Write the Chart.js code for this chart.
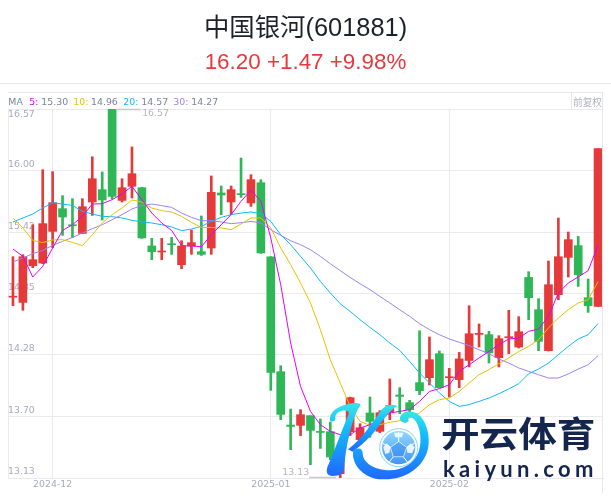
<!DOCTYPE html>
<html><head><meta charset="utf-8">
<style>
html,body{margin:0;padding:0;background:#fff;width:611px;height:501px;overflow:hidden}
#c{position:absolute;left:0;top:0}
.t{position:absolute;white-space:nowrap;line-height:1}
.l{position:absolute;background:#e8e8ec}
#title{left:0;width:611px;top:7px;text-align:center;font:25.4px "Liberation Sans","Noto Sans CJK SC",sans-serif;color:#1d2129}
#sub{left:0;width:611px;top:49px;text-align:center;font:22.4px "Liberation Sans",sans-serif;color:#e8383d}
.h{font:9.4px "DejaVu Sans",sans-serif;top:96px;color:#7d8299}
svg{position:absolute;left:320px;top:390px}
#wm1{left:441px;top:403px;font:bold 38.6px "Noto Sans CJK SC",sans-serif;color:#14254e;transform:scaleY(.92);transform-origin:0 50%}
#wm2{left:443px;top:455px;font:bold 22px "Lato",sans-serif;color:#14254e;letter-spacing:4.3px}
</style></head><body>
<canvas id="c" width="611" height="501"></canvas>
<div class="l" style="left:0;top:83px;width:611px;height:1px"></div>
<div class="l" style="left:8px;top:92px;width:594px;height:1px"></div>
<div class="l" style="left:602px;top:92px;width:1px;height:401px"></div>
<div class="l" style="left:571px;top:92px;width:1px;height:17px"></div>
<div id="title" class="t">中国银河(601881)</div>
<div id="sub" class="t">16.20 +1.47 +9.98%</div>
<div id="ma"></div>
<div class="t" style="left:573px;top:95px;font:9.7px 'Noto Sans CJK SC',sans-serif;color:#b3b6c2">前复权</div>
<svg width="291" height="90" viewBox="0 0 873 270">
<defs>
<linearGradient id="g" x1="0" y1="0" x2="0" y2="1"><stop offset="0" stop-color="#38e6e8"/><stop offset="0.35" stop-color="#12bcfb"/><stop offset="1" stop-color="#2168ff"/></linearGradient>
<linearGradient id="b" x1="0" y1="0" x2="0" y2="1"><stop offset="0" stop-color="#8fd8ff"/><stop offset="1" stop-color="#3f97f7"/></linearGradient>
</defs>
<path fill="url(#g)" d="M30 92C26 70 50 48 85 42C105 38 122 38 122 46C108 62 100 90 90 125C80 165 74 205 72 238C70 252 60 258 38 258C22 258 17 248 22 232C40 190 62 130 86 72C88 62 78 60 66 62C52 66 44 74 46 84C48 92 36 98 30 92Z"/>
<path fill="url(#g)" d="M84 178C120 150 155 105 180 65C192 48 210 38 232 48C214 58 196 80 176 108C156 138 126 165 98 185Z"/>
<path fill="url(#g)" d="M100 182C92 215 125 268 190 268C250 270 300 240 320 190C335 150 322 90 290 70C270 60 246 64 240 82C238 98 258 104 266 92C262 84 268 78 278 84C300 100 308 150 296 185C280 225 240 245 195 240C155 236 128 215 128 190C128 172 112 172 100 182Z"/>
<circle cx="236" cy="173" r="57" fill="#fff" stroke="#8ad2fb" stroke-width="3"/>
<circle cx="236" cy="173" r="50" fill="url(#b)"/>
<path fill="none" stroke="#fff" stroke-width="3" d="M236 155L260 172L250 200L220 200L212 172ZM236 155L236 125M260 172L284 160M250 200L265 220M220 200L205 220M212 172L188 160"/>
<path fill="#fff" opacity="0.85" d="M260 172L272 160L284 172L276 190L262 188ZM212 172L200 160L190 172L196 192L208 188ZM222 128L250 128L246 142L226 142Z"/>
<path fill="#2f86ee" opacity="0.45" d="M236 155L260 172L250 200L220 200L212 172Z"/>
</svg>
<div id="wm1" class="t">开云体育</div>
<div id="wm2" class="t">kaiyun.com</div>
<script src="https://cdn.jsdelivr.net/npm/chart.js@4/dist/chart.umd.js"></script>
<script>
const dates=["2024-11-26","2024-11-27","2024-11-28","2024-11-29","2024-12-02","2024-12-03","2024-12-04","2024-12-05","2024-12-06","2024-12-09","2024-12-10","2024-12-11","2024-12-12","2024-12-13","2024-12-16","2024-12-17","2024-12-18","2024-12-19","2024-12-20","2024-12-23","2024-12-24","2024-12-25","2024-12-26","2024-12-27","2024-12-30","2024-12-31","2025-01-02","2025-01-03","2025-01-06","2025-01-07","2025-01-08","2025-01-09","2025-01-10","2025-01-13","2025-01-14","2025-01-15","2025-01-16","2025-01-17","2025-01-20","2025-01-21","2025-01-22","2025-01-23","2025-01-24","2025-01-27","2025-02-05","2025-02-06","2025-02-07","2025-02-10","2025-02-11","2025-02-12","2025-02-13","2025-02-14","2025-02-17","2025-02-18","2025-02-19","2025-02-20","2025-02-21","2025-02-24","2025-02-25","2025-02-26"];
const opens=[14.816,14.767,15.109,15.134,15.429,15.641,15.491,15.410,15.703,15.818,16.570,15.718,15.849,15.836,15.293,15.237,15.312,15.119,15.293,15.240,15.274,15.787,15.703,15.781,15.694,15.883,15.193,14.121,13.624,13.621,13.711,13.562,13.562,13.170,13.562,13.487,13.736,13.565,13.748,13.904,13.832,14.019,14.065,14.289,14.065,14.047,14.226,14.469,14.466,14.252,14.438,14.351,15.000,14.699,14.317,14.839,15.187,15.296,14.811,14.73];
const closes=[14.823,15.193,15.165,15.501,15.697,15.563,15.482,15.659,15.920,15.722,15.755,15.836,15.967,15.368,15.240,15.243,15.305,15.293,15.324,15.215,15.793,15.768,15.818,15.771,15.911,15.228,14.115,13.723,13.611,13.720,13.574,13.555,13.326,13.320,13.879,13.599,13.658,13.739,13.804,13.891,13.767,13.944,14.233,13.972,14.072,14.240,14.475,14.475,14.296,14.429,14.445,14.494,14.811,14.404,14.932,15.193,15.352,15.025,14.736,16.20];
const highs=[15.193,15.212,15.491,16.004,15.986,15.762,15.734,15.734,16.125,15.983,16.57,15.920,16.216,15.841,15.364,15.364,15.373,15.342,15.442,15.573,15.946,15.852,15.852,16.113,15.958,15.911,15.193,14.177,13.773,13.767,13.711,13.680,13.652,13.375,13.884,13.636,13.885,13.758,14.053,13.972,13.854,14.503,14.445,14.314,14.152,14.301,14.736,14.566,14.497,14.457,14.693,14.634,15.053,14.802,15.153,15.554,15.423,15.382,14.985,16.20];
const lows=[14.736,14.693,15.091,15.128,15.277,15.392,15.370,15.408,15.578,15.535,15.734,15.703,15.740,15.364,15.165,15.165,15.215,15.081,15.215,15.205,15.215,15.585,15.585,15.746,15.662,15.224,13.947,13.674,13.394,13.525,13.254,13.406,13.301,13.13,13.525,13.441,13.509,13.553,13.674,13.730,13.748,13.907,13.997,13.969,13.885,13.972,14.165,14.351,14.202,14.165,14.289,14.342,14.606,14.317,14.314,14.792,15.004,14.916,14.674,14.73];
const ma5=[15.265,15.196,15.004,15.103,15.274,15.438,15.491,15.569,15.684,15.687,15.725,15.778,15.849,15.725,15.600,15.507,15.438,15.296,15.293,15.286,15.398,15.491,15.585,15.709,15.815,15.709,15.368,14.932,14.389,13.984,13.751,13.627,13.565,13.534,13.534,13.596,13.627,13.674,13.736,13.751,13.767,13.844,13.937,13.963,14.000,14.124,14.186,14.249,14.310,14.373,14.426,14.435,14.497,14.519,14.637,14.855,14.948,15.004,15.063,15.30];
const ma10=[15.554,15.461,15.345,15.324,15.349,15.352,15.327,15.296,15.398,15.507,15.585,15.647,15.722,15.703,15.647,15.622,15.610,15.569,15.513,15.466,15.466,15.461,15.445,15.498,15.554,15.554,15.461,15.274,15.119,14.948,14.762,14.513,14.233,14.016,13.798,13.658,13.621,13.627,13.649,13.664,13.689,13.736,13.814,13.860,13.876,13.937,14.016,14.093,14.140,14.196,14.249,14.310,14.357,14.419,14.529,14.622,14.699,14.762,14.792,14.96];
const ma20=[15.517,15.554,15.591,15.647,15.697,15.684,15.671,15.616,15.591,15.569,15.566,15.554,15.532,15.517,15.507,15.491,15.470,15.436,15.451,15.476,15.522,15.560,15.585,15.600,15.610,15.594,15.522,15.398,15.305,15.196,15.088,14.963,14.855,14.755,14.683,14.606,14.534,14.466,14.389,14.320,14.217,14.109,14.016,13.923,13.844,13.798,13.814,13.844,13.876,13.916,13.960,14.009,14.102,14.146,14.202,14.280,14.357,14.426,14.466,14.57];
const ma30=[15.144,15.181,15.221,15.252,15.299,15.336,15.373,15.414,15.454,15.491,15.538,15.585,15.638,15.671,15.684,15.669,15.653,15.600,15.560,15.529,15.529,15.517,15.501,15.510,15.522,15.507,15.445,15.392,15.342,15.305,15.258,15.196,15.128,15.063,15.000,14.941,14.886,14.823,14.762,14.699,14.637,14.569,14.513,14.466,14.426,14.395,14.364,14.326,14.289,14.239,14.202,14.156,14.124,14.093,14.062,14.062,14.100,14.146,14.186,14.27];
const yTicks=[13.13,13.70,14.28,14.85,15.42,16.00,16.57];
const xTickIdx=[4,26,44];
const lastMA=[["5",15.30,"#e100ff"],["10",14.96,"#e6c200"],["20",14.57,"#0dbbfb"],["30",14.27,"#9b82f7"]];

const RED="#e63939",GREEN="#2fb757",GRID="#e9e9ee",TXT="#a7aabb";
const FONT='"DejaVu Sans",sans-serif';
(function(){
  const host=document.getElementById('ma');
  const add=(txt,x,col)=>{const d=document.createElement('div');d.className='t h';d.style.left=x+'px';if(col)d.style.color=col;d.textContent=txt;host.appendChild(d);};
  add('MA',8.3);
  const xs=[[29.3,41.3],[73.3,91],[123.3,141.3],[173.3,191.3]];
  lastMA.forEach((m,i)=>{add(m[0]+':',xs[i][0],m[2]);add(m[1].toFixed(2),xs[i][1]);});
})();
const colors=closes.map((c,i)=>c>=opens[i]?RED:GREEN);
const line=(data,color)=>({type:'line',data,borderColor:color,borderWidth:1,pointRadius:0,tension:0,fill:false,order:0});
const markers={id:'markers',afterDatasetsDraw(ch){
  const {ctx,scales:{x,y}}=ch;
  const hi=Math.max(...highs),lo=Math.min(...lows);
  const hx=x.getPixelForValue(highs.indexOf(hi)),lx=x.getPixelForValue(lows.indexOf(lo));
  const hy=y.getPixelForValue(hi),ly=y.getPixelForValue(lo);
  ctx.save();
  ctx.strokeStyle='#c8c8cc';ctx.lineWidth=1.5;ctx.fillStyle='#b5b6bd';ctx.font='9.4px '+FONT;
  ctx.beginPath();ctx.moveTo(hx+4,hy+0.5);ctx.lineTo(hx+29,hy+0.5);ctx.moveTo(lx-31,ly-0.5);ctx.lineTo(lx-4,ly-0.5);ctx.stroke();
  ctx.textBaseline='middle';
  ctx.textAlign='left';ctx.fillText(hi.toFixed(2),hx+30,hy+4.5);
  ctx.textAlign='right';ctx.fillText(lo.toFixed(2),lx-31,ly-5.5);
  ctx.restore();
}};
new Chart(document.getElementById('c'),{
  type:'bar',
  data:{labels:dates,datasets:[
    line(ma5,lastMA[0][2]),line(ma10,lastMA[1][2]),line(ma20,lastMA[2][2]),line(ma30,lastMA[3][2]),
    {data:opens.map((o,i)=>[o,closes[i]]),backgroundColor:colors,barThickness:8,minBarLength:1,borderWidth:0,grouped:false,order:1},
    {data:lows.map((l,i)=>[l,highs[i]]),backgroundColor:colors,barThickness:2,borderWidth:0,grouped:false,order:2}
  ]},
  options:{
    responsive:false,animation:false,
    layout:{padding:{left:8,right:8,top:109,bottom:0}},
    plugins:{legend:{display:false},tooltip:{enabled:false},title:{display:false}},
    scales:{
      x:{type:'category',offset:true,
        afterBuildTicks(s){s.ticks=xTickIdx.map(v=>({value:v}));},
        afterFit(s){s.height=23;},
        grid:{color:GRID,drawTicks:false,offset:false},border:{color:GRID},
        ticks:{autoSkip:false,maxRotation:0,padding:1,color:TXT,font:{family:FONT,size:9.4},
          callback(v){return this.getLabelForValue(v).slice(0,7);}}},
      y:{type:'linear',min:13.13,max:16.57,stacked:false,
        afterBuildTicks(s){s.ticks=yTicks.map(v=>({value:v}));},
        afterFit(s){s.width=0;},
        grid:{color:GRID,drawTicks:false},border:{color:GRID},
        ticks:{mirror:true,padding:0,labelOffset:-6,color:TXT,font:{family:FONT,size:9.4},
          callback(v){const t=v.toFixed(2);return v===16.57?['','',t]:t;}}}
    }
  },
  plugins:[markers]
});
</script>
</body></html>
